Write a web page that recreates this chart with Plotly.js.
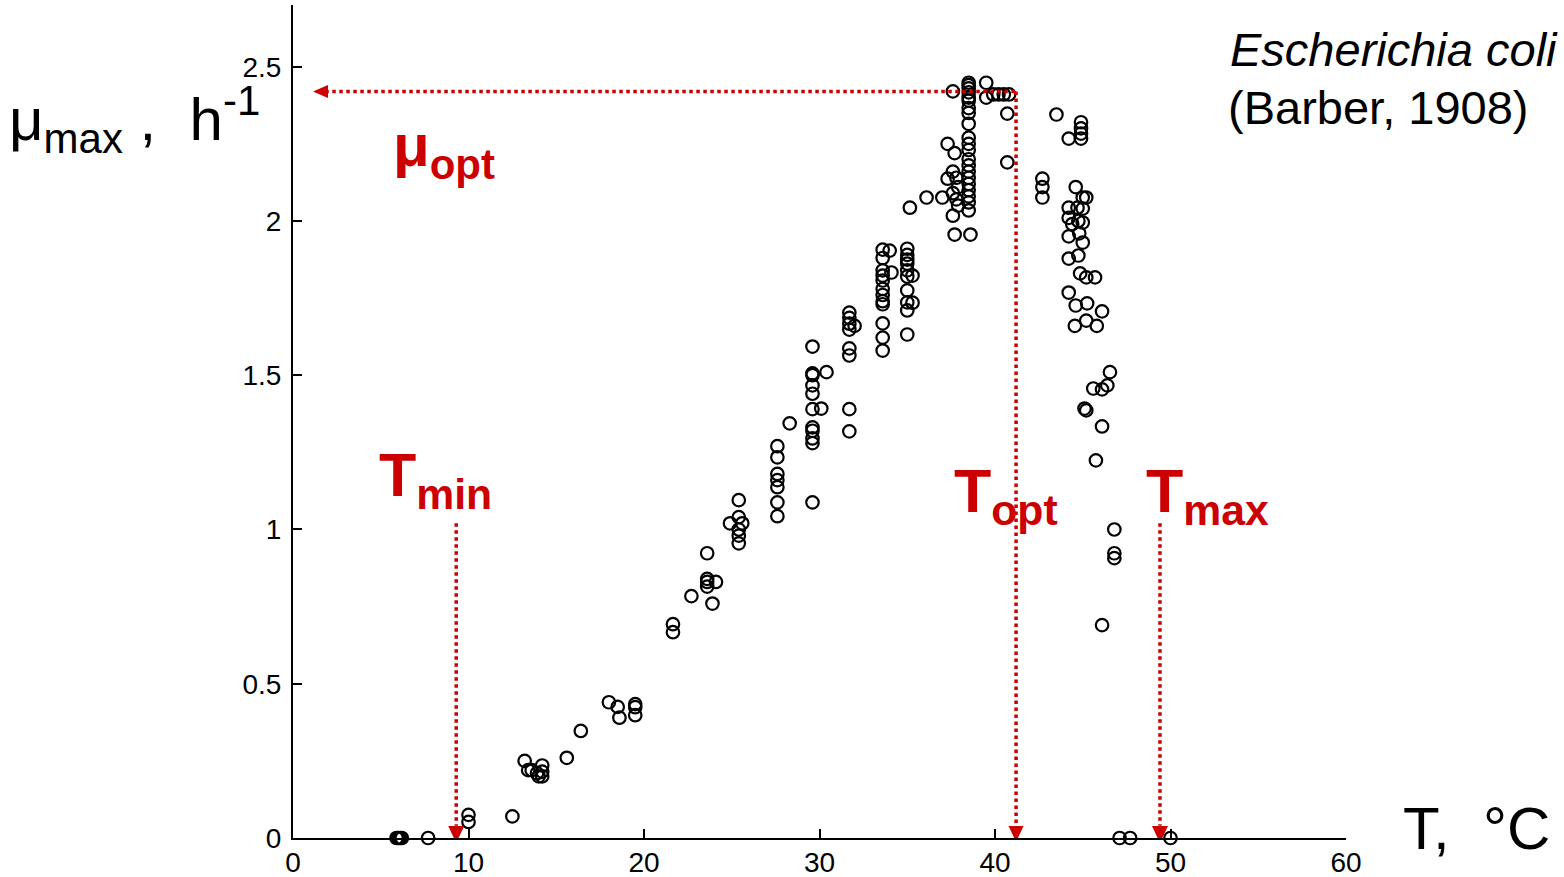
<!DOCTYPE html>
<html>
<head>
<meta charset="utf-8">
<script src="https://cdn.plot.ly/plotly-3.0.1.min.js"></script>
<style>html,body{margin:0;padding:0;background:#fff;}#chart{width:1564px;height:877px;}</style>
</head>
<body>
<div id="chart"></div>
<script>
// Temperature (°C) of each observation
const tempC = [
  5.9, 6.0, 6.1, 6.2, 7.7,
  10.0, 10.0, 12.5,
  13.2, 13.4, 13.6, 13.9, 14.0, 14.2, 14.2, 14.2,
  15.6, 16.4, 18.0, 18.5, 18.6, 19.5, 19.5, 19.5,
  21.65, 21.65, 22.7,
  23.6, 23.6, 23.6, 23.6, 24.1, 23.9,
  25.4, 25.4, 24.9, 25.6, 25.4, 25.4, 25.4,
  27.6, 27.6, 27.6, 27.6, 27.6, 27.6, 27.6,
  28.3,
  29.6, 29.6, 29.6, 29.6, 29.6, 29.6, 29.6, 29.6, 29.6, 29.6, 29.6,
  30.1, 30.4,
  31.7, 31.7, 31.7, 31.7, 31.7, 31.7, 31.7, 31.7, 32.0,
  33.6, 33.6, 33.6, 33.6, 33.6, 33.6, 33.6, 33.6, 33.6, 33.6, 33.6, 33.6, 34.0, 34.1,
  35.0, 35.0, 35.0, 35.0, 35.0, 35.0, 35.0, 35.0, 35.0, 35.0, 35.3, 35.3,
  35.15, 36.1, 37.0, 37.3, 37.7, 37.3,
  37.6, 37.8, 37.9, 37.6, 37.8, 37.9, 37.6,
  37.7, 38.6,
  38.5, 38.5, 38.5, 38.5, 38.5, 38.5, 38.5, 38.5, 38.5, 38.5, 38.5,
  38.5, 38.5, 38.5, 38.5, 38.5, 38.5, 38.5, 38.5, 38.5, 38.5,
  37.6, 39.5, 39.5, 39.9, 40.2, 40.5, 40.8, 40.7, 40.7,
  42.7, 42.7, 42.7,
  43.5, 44.9, 44.9, 44.9, 44.2, 44.9,
  44.6, 45.0, 45.2,
  44.2, 44.7, 45.0, 44.2, 44.75, 45.0, 44.4, 44.2, 44.8, 45.0, 44.2, 44.75, 44.85,
  45.2, 45.7, 44.2, 44.6, 45.25, 46.1, 44.55, 45.2, 45.8,
  46.55, 45.6, 46.1, 46.4, 45.1, 45.2, 46.1, 45.75, 46.8, 46.8, 46.8, 46.1,
  47.1, 47.7, 50.0
];
// Maximum specific growth rate (1/h)
const muMax = [
  0, 0, 0, 0, 0,
  0.075, 0.052, 0.07,
  0.25, 0.22, 0.22, 0.21, 0.20, 0.20, 0.215, 0.235,
  0.26, 0.347, 0.44, 0.425, 0.39, 0.434, 0.424, 0.398,
  0.693, 0.667, 0.784,
  0.923, 0.84, 0.83, 0.815, 0.83, 0.76,
  1.095, 1.04, 1.02, 1.02, 1.0, 0.98, 0.955,
  1.27, 1.234, 1.18, 1.16, 1.137, 1.088, 1.043,
  1.344,
  1.593, 1.506, 1.50, 1.467, 1.44, 1.39, 1.331, 1.32, 1.295, 1.28, 1.088,
  1.392, 1.51,
  1.703, 1.686, 1.667, 1.648, 1.587, 1.564, 1.39, 1.318, 1.66,
  1.907, 1.88, 1.84, 1.823, 1.807, 1.78, 1.76, 1.74, 1.73, 1.668, 1.622, 1.58, 1.904, 1.833,
  1.91, 1.89, 1.875, 1.862, 1.84, 1.82, 1.775, 1.736, 1.71, 1.632, 1.823, 1.735,
  2.043, 2.076, 2.076, 2.25, 2.22, 2.137,
  2.16, 2.14, 2.11, 2.09, 2.07, 2.05, 2.017,
  1.956, 1.956,
  2.448, 2.44, 2.43, 2.417, 2.40, 2.39, 2.366, 2.35, 2.315, 2.27, 2.25,
  2.23, 2.20, 2.18, 2.16, 2.14, 2.12, 2.10, 2.08, 2.06, 2.034,
  2.42, 2.448, 2.40, 2.41, 2.41, 2.41, 2.41, 2.348, 2.19,
  2.137, 2.11, 2.076,
  2.345, 2.32, 2.30, 2.283, 2.267, 2.267,
  2.11, 2.076, 2.076,
  2.043, 2.043, 2.04, 2.01, 2.0, 1.995, 1.99, 1.95, 1.96, 1.93, 1.878, 1.888, 1.83,
  1.817, 1.817, 1.768, 1.726, 1.733, 1.707, 1.66, 1.677, 1.66,
  1.51, 1.457, 1.454, 1.467, 1.392, 1.386, 1.334, 1.224, 1.0, 0.923, 0.907, 0.69,
  0, 0, 0
];
// Cardinal values marked on the chart
const T_MIN = 9.3;
const T_OPT = 41.2;
const T_MAX = 49.4;
const MU_OPT = 2.42;
const ARROW_START_T = 1.14;   // left end of the mu_opt arrow
const LABEL_MU = 1.02;        // top of the Tmin / Tmax arrows

const xTicks = [0, 10, 20, 30, 40, 50, 60];
const yTicks = [0, 0.5, 1, 1.5, 2, 2.5];

const RED = '#cc0000';
const FONT = 'Liberation Sans, Arial, Helvetica, sans-serif';

const dotted = {color: RED, width: 3.5, dash: 'dot'};
const shapes = [
  {type: 'line', xref: 'x', yref: 'y', x0: ARROW_START_T + 0.7, x1: T_OPT, y0: MU_OPT, y1: MU_OPT, line: dotted},
  {type: 'line', xref: 'x', yref: 'y', x0: T_OPT, x1: T_OPT, y0: MU_OPT, y1: 0.04, line: dotted},
  {type: 'line', xref: 'x', yref: 'y', x0: T_MIN, x1: T_MIN, y0: LABEL_MU, y1: 0.04, line: dotted},
  {type: 'line', xref: 'x', yref: 'y', x0: T_MAX, x1: T_MAX, y0: LABEL_MU, y1: 0.04, line: dotted},
  // arrow heads (pixel-sized, anchored at data positions)
  {type: 'path', xref: 'x', yref: 'y', xsizemode: 'pixel', ysizemode: 'pixel', xanchor: ARROW_START_T, yanchor: MU_OPT,
   path: 'M 0 0 L 15 6.5 L 15 -6.5 Z', fillcolor: RED, line: {width: 0}},
  {type: 'path', xref: 'x', yref: 'y', xsizemode: 'pixel', ysizemode: 'pixel', xanchor: T_OPT, yanchor: 0,
   path: 'M -7.5 12 L 7.5 12 L 0 -4 Z', fillcolor: RED, line: {width: 0}},
  {type: 'path', xref: 'x', yref: 'y', xsizemode: 'pixel', ysizemode: 'pixel', xanchor: T_MIN, yanchor: 0,
   path: 'M -8 12 L 8 12 L 0 -5 Z', fillcolor: RED, line: {width: 0}},
  {type: 'path', xref: 'x', yref: 'y', xsizemode: 'pixel', ysizemode: 'pixel', xanchor: T_MAX, yanchor: 0,
   path: 'M -8 12 L 8 12 L 0 -5 Z', fillcolor: RED, line: {width: 0}}
];

const annotations = [
  {xref: 'paper', yref: 'paper', x: -0.272, y: 0.862, xanchor: 'left', yanchor: 'middle', showarrow: false,
   text: 'μ<sub>max</sub> ,  h<sup>-1</sup>', font: {family: FONT, size: 60, color: '#000'}},
  {xref: 'paper', yref: 'paper', x: 0.888, y: 0.946, xanchor: 'left', yanchor: 'middle', showarrow: false,
   text: '<i>Escherichia coli</i>', font: {family: FONT, size: 47, color: '#000'}},
  {xref: 'paper', yref: 'paper', x: 0.886, y: 0.877, xanchor: 'left', yanchor: 'middle', showarrow: false,
   text: '(Barber, 1908)', font: {family: FONT, size: 47, color: '#000'}},
  {xref: 'paper', yref: 'paper', x: 1.052, y: 0.012, xanchor: 'left', yanchor: 'middle', showarrow: false,
   text: 'T,  °C', font: {family: FONT, size: 60, color: '#000'}},
  {xref: 'paper', yref: 'paper', x: 0.093, y: 0.826, xanchor: 'left', yanchor: 'middle', showarrow: false,
   text: '<b>μ<sub>opt</sub></b>', font: {family: FONT, size: 60, color: RED}},
  {xref: 'paper', yref: 'paper', x: 0.080, y: 0.430, xanchor: 'left', yanchor: 'middle', showarrow: false,
   text: '<b>T<sub>min</sub></b>', font: {family: FONT, size: 61, color: RED}},
  {xref: 'paper', yref: 'paper', x: 0.626, y: 0.411, xanchor: 'left', yanchor: 'middle', showarrow: false,
   text: '<b>T<sub>opt</sub></b>', font: {family: FONT, size: 61, color: RED}},
  {xref: 'paper', yref: 'paper', x: 0.808, y: 0.411, xanchor: 'left', yanchor: 'middle', showarrow: false,
   text: '<b>T<sub>max</sub></b>', font: {family: FONT, size: 61, color: RED}}
];

const trace = {
  type: 'scatter', mode: 'markers', x: tempC, y: muMax, cliponaxis: false, hoverinfo: 'x+y',
  marker: {symbol: 'circle-open', size: 12.5, color: '#000', line: {width: 2.2, color: '#000'}}
};

const axisCommon = {
  showgrid: false, zeroline: false, showline: true, linecolor: '#000', linewidth: 2,
  ticks: 'inside', ticklen: 9, tickwidth: 2, tickcolor: '#000',
  tickfont: {family: FONT, size: 28, color: '#000'}, automargin: false
};

const layout = {
  width: 1564, height: 877,
  margin: {l: 293, r: 218, t: 5, b: 39, pad: 0},
  paper_bgcolor: '#fff', plot_bgcolor: '#fff',
  showlegend: false,
  xaxis: Object.assign({}, axisCommon, {range: [0, 60], tickvals: xTicks, ticktext: xTicks.map(String), ticklabelstandoff: -2}),
  yaxis: Object.assign({}, axisCommon, {range: [0, 2.7], tickvals: yTicks, ticktext: yTicks.map(String), ticklabelstandoff: 4}),
  shapes: shapes,
  annotations: annotations
};

Plotly.newPlot('chart', [trace], layout, {displayModeBar: false, staticPlot: true});
</script>
</body>
</html>
